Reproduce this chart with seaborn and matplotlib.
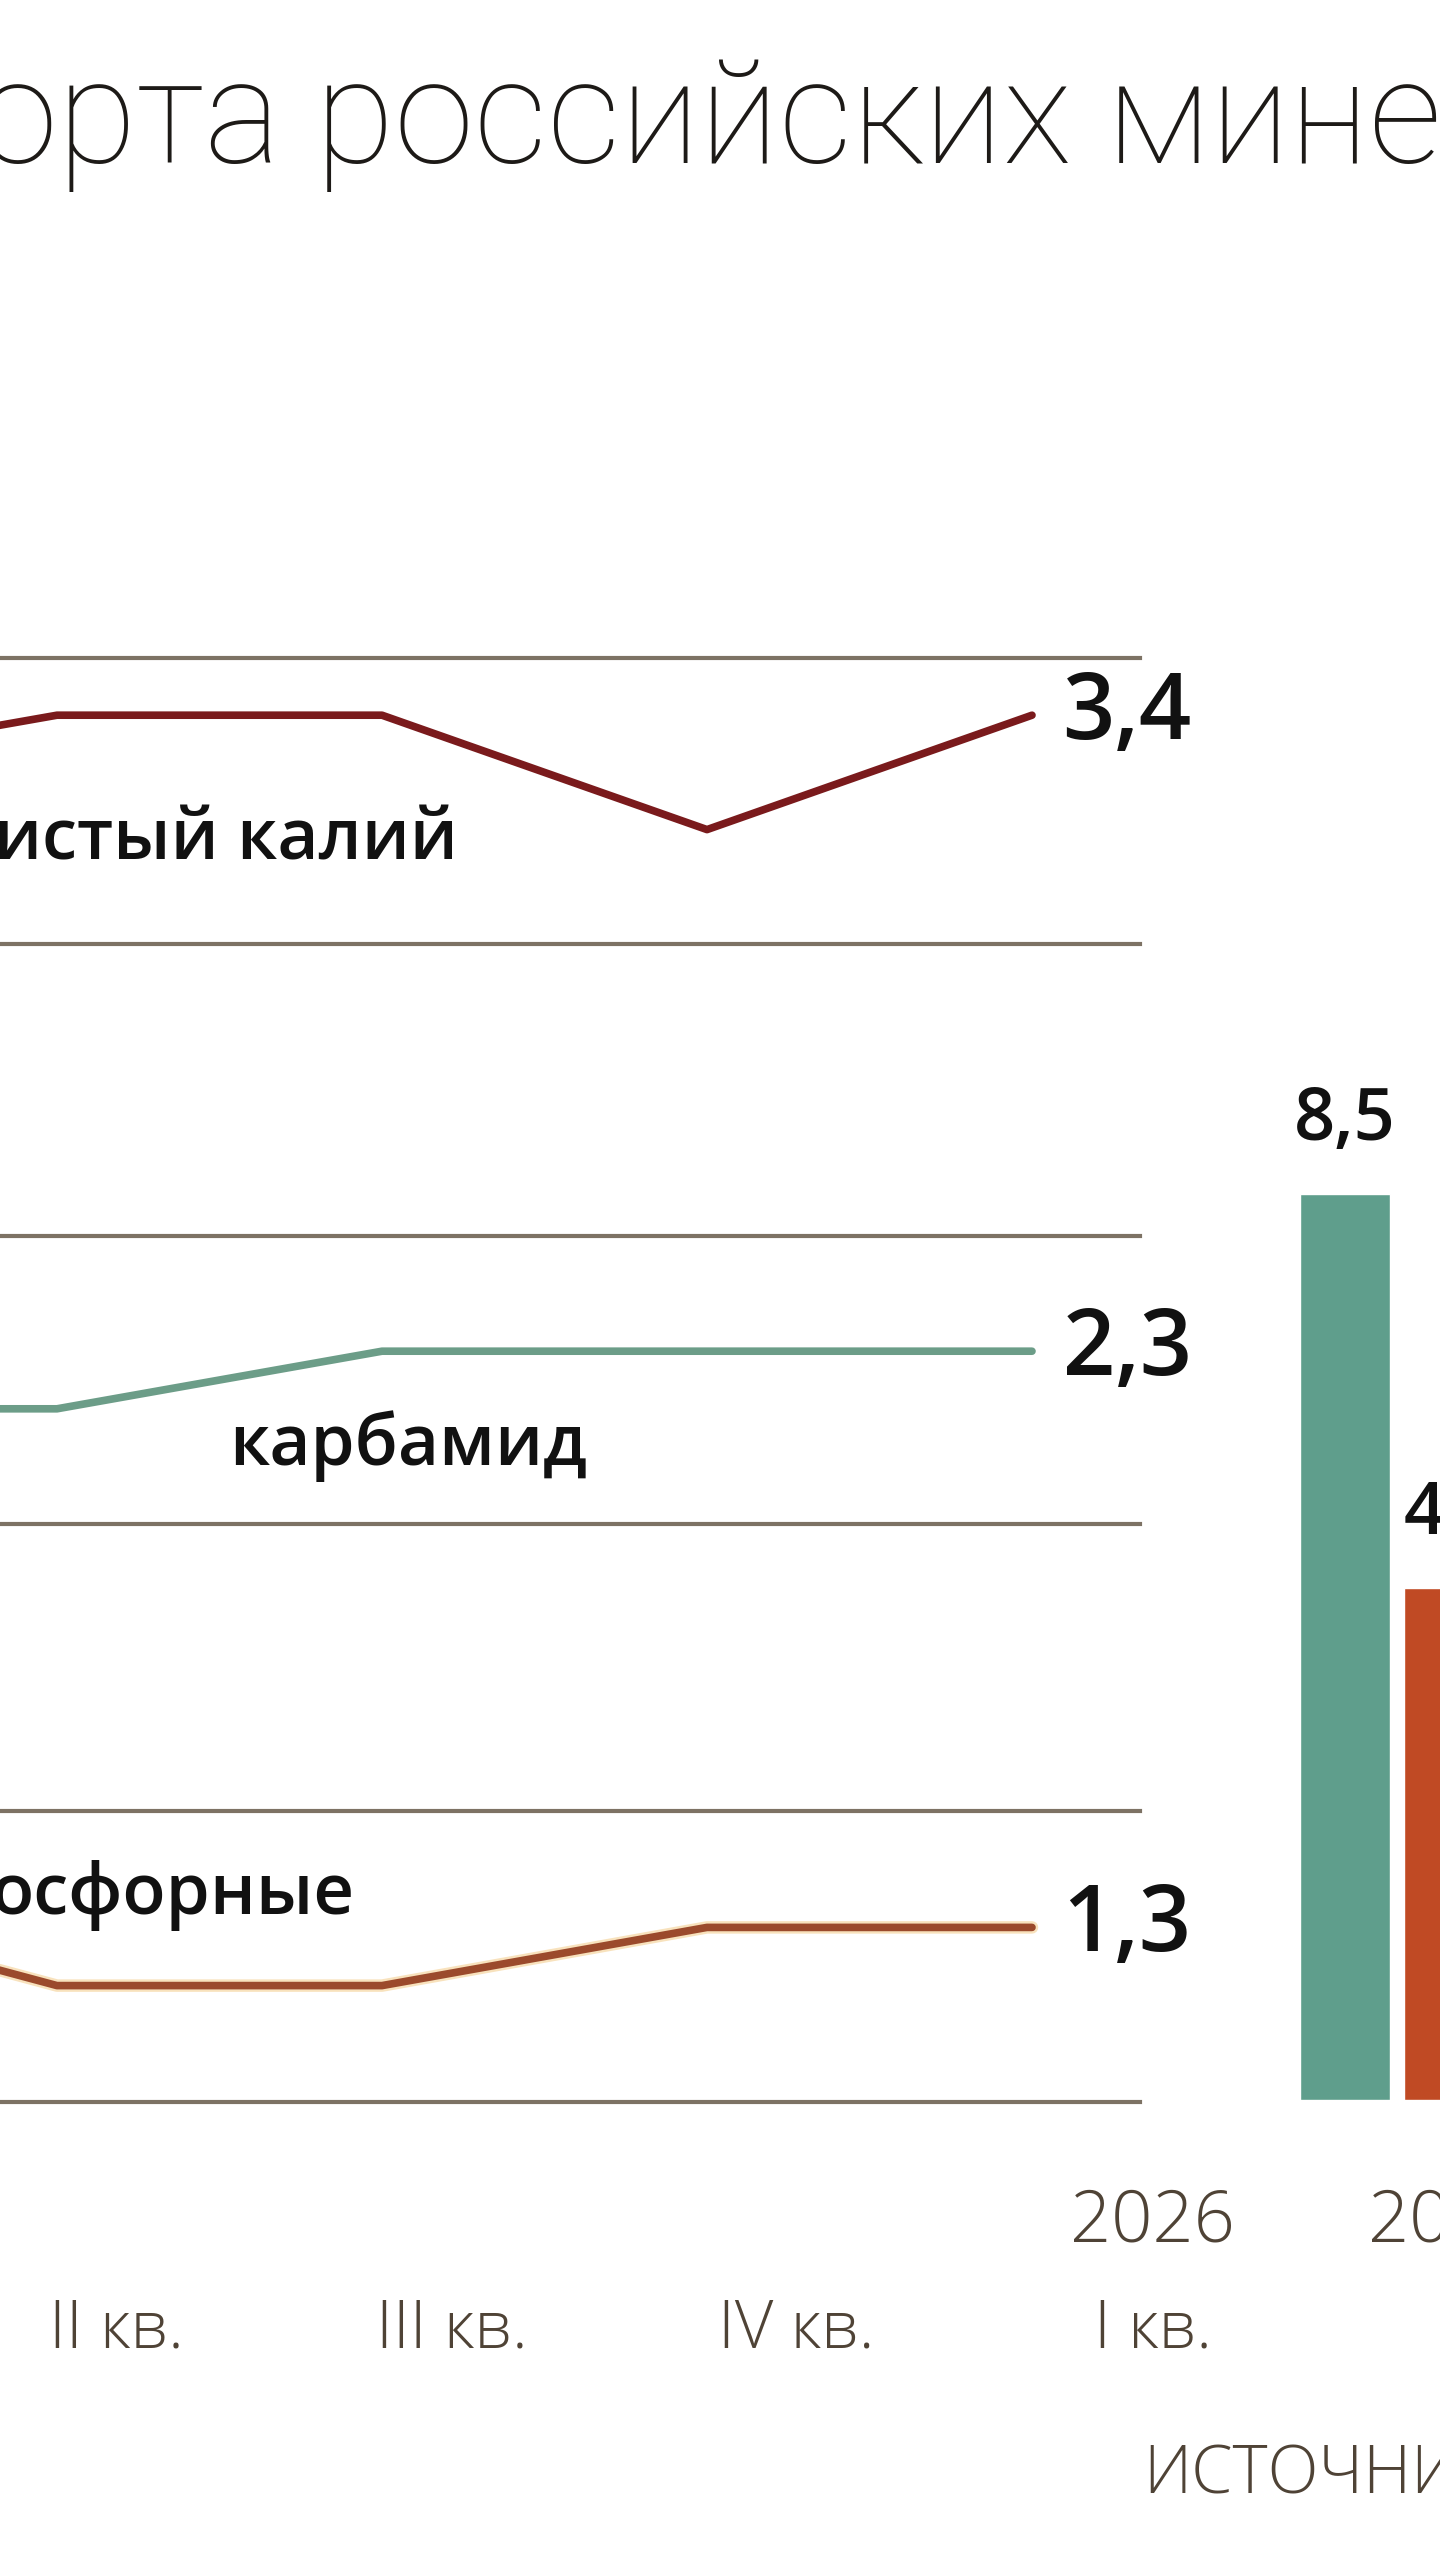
import matplotlib
matplotlib.use("Agg")
import matplotlib.pyplot as plt
import matplotlib.patheffects as pe
import seaborn as sns
import pandas as pd
import numpy as np

sns.set_theme(style="white")
plt.rcParams['font.family'] = ['Open Sans', 'DejaVu Sans']

# ---- data ----
quarters = ["I кв. 2025", "II кв.", "III кв.", "IV кв.", "I кв. 2026"]
potash = [3.2, 3.4, 3.4, 3.0, 3.4]
urea = [2.1, 2.1, 2.3, 2.3, 2.3]
phosphate = [1.4, 1.1, 1.1, 1.3, 1.3]
bar_years = ["2025", "2026"]
bar_values = [8.5, 4.8]
bar_labels = ["8,5", "4,8"]
end_labels = ["3,4", "2,3", "1,3"]
series_names = ["истый калий", "карбамид", "осфорные"]
quarter_ticks = ["II кв.", "III кв.", "IV кв.", "I кв."]
title_text = "орта российских мине"
source_text = "ИСТОЧНИ"

W, H = 1440, 2560
fig = plt.figure(figsize=(W / 100, H / 100), dpi=100)
fig.patch.set_facecolor("white")

def fx(x):
    return x / W

def fy(y):
    return 1 - y / H

GRID = "#7d7264"
LABEL_BROWN = "#4f4336"

panels = [
    (658, 944, (2.6, 3.6), potash, "#7a1a1c", end_labels[0], series_names[0], (-6, 860)),
    (1236, 1524, (1.7, 2.7), urea, "#6c9d88", end_labels[1], series_names[1], (229, 1465)),
    (1811, 2102, (0.7, 1.7), phosphate, "#9b4a2c", end_labels[2], series_names[2], (-10, 1914)),
]

x1_px, x4_px = 57, 1032
step = (x4_px - x1_px) / 3.0
ax_left_px, ax_right_px = 0, 1140
xmin = 1 + (ax_left_px - x1_px) / step
xmax = 4 + (ax_right_px - x4_px) / step

for i, (top, bot, ylim, vals, col, elab, name, npos) in enumerate(panels):
    ax = fig.add_axes([fx(ax_left_px), fy(bot), fx(ax_right_px - ax_left_px), (bot - top) / H])
    df = pd.DataFrame({"x": np.arange(len(vals)), "v": vals})
    effects = None
    if i == 2:
        effects = [pe.Stroke(linewidth=9, foreground="#f8e2bd"), pe.Normal()]
    sns.lineplot(data=df, x="x", y="v", ax=ax, color=col, linewidth=5.5,
                 path_effects=effects, legend=False)
    ax.set_xlim(xmin, xmax)
    ax.set_ylim(*ylim)
    for s in ["left", "right"]:
        ax.spines[s].set_visible(False)
    for s in ["top", "bottom"]:
        ax.spines[s].set_visible(True)
        ax.spines[s].set_color(GRID)
        ax.spines[s].set_linewidth(3)
    ax.set_xticks([])
    ax.set_yticks([])
    ax.set_xlabel("")
    ax.set_ylabel("")
    ax.patch.set_visible(False)
    ax.annotate(elab, xy=(4, vals[-1]), xytext=(22, 0), textcoords="offset points",
                ha="left", va="center", fontsize=66, fontweight="semibold",
                color="#111111")
    fig.text(fx(npos[0]), fy(npos[1]), name, ha="left", va="baseline",
             fontsize=51, fontweight="semibold", color="#111111")

# bars
bar_bottom, bar_top = 2100, 1194
centers_px = 1345
pitch = 104
bw = 90 / pitch
bax_left, bax_right = 1200, 1440
bax = fig.add_axes([fx(bax_left), fy(bar_bottom), fx(bax_right - bax_left), (bar_bottom - bar_top) / H])
bdf = pd.DataFrame({"year": bar_years, "v": bar_values})
sns.barplot(data=bdf, x="year", y="v", hue="year", palette=["#5f9e8c", "#c04a24"],
            ax=bax, width=bw, legend=False, saturation=1)
bax.set_xlim((bax_left - centers_px) / pitch, (bax_right - centers_px) / pitch)
bax.set_ylim(0, bar_values[0])
bax.axis("off")
bax.text(0, bar_values[0] + 0.35, bar_labels[0], ha="center", va="bottom",
         fontsize=52, fontweight="semibold", color="#111111", clip_on=False)
bax.text(1 - bw / 2, bar_values[1] + 0.35, bar_labels[1], ha="left", va="bottom",
         fontsize=52, fontweight="semibold", color="#111111", clip_on=False)

# x labels
qx = [49, 376, 718, 1094]
for x, t in zip(qx, quarter_ticks):
    fig.text(fx(x), fy(2347), t, ha="left", va="baseline", fontsize=48,
             fontweight="light", color=LABEL_BROWN)
fig.text(fx(1070), fy(2242), "2026", ha="left", va="baseline", fontsize=52,
         fontweight="light", color=LABEL_BROWN)
fig.text(fx(1368), fy(2242), "20", ha="left", va="baseline", fontsize=52,
         fontweight="light", color=LABEL_BROWN)
fig.text(fx(1143), fy(2494), source_text, ha="left", va="baseline", fontsize=48,
         fontweight="light", color=LABEL_BROWN)

# title
fig.text(fx(-22), fy(163), title_text, ha="left", va="baseline", fontsize=104,
         fontweight="light", color="#1d1a17", family=["Roboto", "Open Sans", "DejaVu Sans"])

fig.savefig("out.png", dpi=100, facecolor="white")
